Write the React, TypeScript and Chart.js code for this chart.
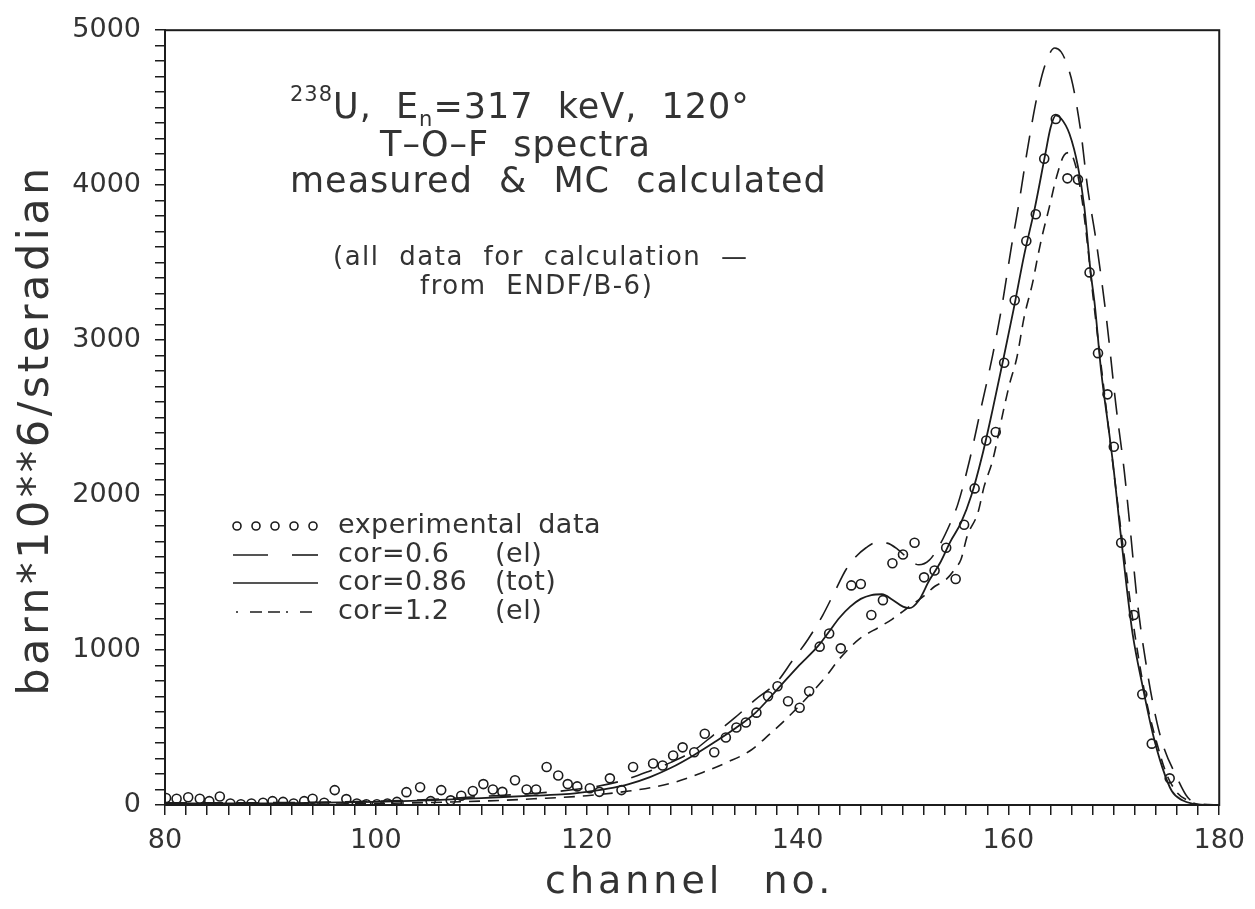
import React, { useEffect, useRef } from 'react';
import { Chart, registerables } from 'chart.js';

Chart.register(...registerables);

// ---------- data ----------
const expX = [80.1, 81.1, 82.2, 83.3, 84.2, 85.2, 86.2, 87.2, 88.2, 89.3, 90.2, 91.2, 92.2, 93.2, 94.0, 95.1, 96.1, 97.2, 98.2, 99.1,
  100.1, 101.1, 102.0, 102.9, 104.2, 105.2, 106.2, 107.1, 108.1, 109.2, 110.2, 111.1, 112.0, 113.2, 114.3, 115.2, 116.2, 117.3, 118.2, 119.1,
  120.3, 121.2, 122.2, 123.3, 124.4, 126.3, 127.2, 128.2, 129.1, 130.2, 131.2, 132.1, 133.2, 134.2, 135.1, 136.1, 137.2, 138.1, 139.1, 140.2,
  141.1, 142.1, 143.0, 144.1, 145.1, 146.0, 147.0, 148.1, 149.0, 150.0, 151.1, 152.0, 153.0, 154.1, 155.0, 155.8, 156.8, 157.9, 158.8, 159.6,
  160.6, 161.7, 162.6, 163.4, 164.5, 165.6, 166.6, 167.7, 168.5, 169.4, 170.0, 170.7, 171.9, 172.7, 173.6, 175.3];
const expY = [45, 40, 50, 40, 25, 55, 10, 5, 10, 15, 25, 20, 10, 25, 40, 15, 96, 38, 10, 5,
  5, 10, 20, 83, 115, 25, 96, 30, 60, 90, 135, 100, 85, 160, 100, 100, 245, 190, 135, 120,
  108, 85, 172, 96, 245, 268, 255, 319, 372, 340, 460, 340, 436, 500, 532, 596, 702, 766, 670, 628,
  734, 1022, 1107, 1011, 1417, 1426, 1226, 1322, 1560, 1617, 1692, 1469, 1513, 1660, 1458, 1809, 2043, 2352, 2407, 2854,
  3257, 3640, 3812, 4171, 4427, 4044, 4036, 3437, 2916, 2650, 2312, 1692, 1226, 715, 396, 172];

const corTotX = [80, 85, 90, 95, 100, 105, 110, 115, 118, 120, 122, 124, 126, 128, 130, 132, 134, 136, 138, 140,
  142, 143, 144, 145, 146, 147, 148, 149, 150, 150.6, 151.5, 152.5, 153.5, 154.5, 155.5, 156.5, 157.5, 158.5, 159.5, 160.5,
  161.5, 162.5, 163.5, 164, 164.5, 165, 165.8, 166.6, 167.2, 167.8, 168.2, 168.8, 169.6, 170, 170.5, 171.2, 171.8, 172.7, 173.7, 174.6,
  175.5, 176.5, 177.5, 179, 180];
const corTotY = [10, 10, 10, 15, 20, 30, 45, 60, 70, 85, 105, 135, 180, 240, 315, 400, 490, 595, 740, 890,
  1030, 1120, 1210, 1280, 1330, 1355, 1360, 1325, 1280, 1270, 1320, 1450, 1560, 1700, 1820, 2000, 2250, 2550, 2870, 3200,
  3550, 3850, 4200, 4370, 4450, 4430, 4330, 4120, 3860, 3440, 3225, 2800, 2380, 2160, 1840, 1417, 1098, 777, 460, 243,
  90, 30, 8, 0, 0];

const cor06X = [80, 90, 100, 105, 110, 115, 120, 123, 126, 128, 130, 132, 134, 136, 138, 139.5, 141, 142.4, 143.5, 144.6,
  145.5, 146.5, 147.5, 148.5, 149.5, 150.5, 151.5, 152.5, 153.5, 154.5, 155.2, 156.3, 157.4, 158.5, 159.4, 160.3, 161, 161.8, 162.7, 163.5,
  164.4, 165, 165.5, 166.1, 166.9, 167.5, 168.3, 169.3, 170.2, 171, 171.6, 172.2, 173.2, 174.1, 174.8, 175.9, 177, 178, 180];
const cor06Y = [15, 15, 25, 35, 55, 75, 110, 150, 220, 275, 345, 450, 560, 680, 790, 930, 1070, 1226, 1373, 1520,
  1600, 1660, 1695, 1690, 1650, 1590, 1550, 1580, 1680, 1820, 1940, 2220, 2560, 2900, 3225, 3608, 3883, 4227, 4566, 4780,
  4885, 4860, 4790, 4650, 4330, 3990, 3650, 3140, 2580, 2150, 1750, 1330, 850, 530, 360, 190, 50, 10, 0];

const cor12X = [80, 90, 100, 110, 115, 120, 124, 126.3, 128.5, 131, 133.3, 135.5, 137.4, 139, 141, 142.7, 144, 145.9, 147.8, 149,
  150, 151, 152, 153, 154.1, 155, 155.5, 156.1, 157.1, 157.7, 158.5, 159.6, 160.1, 160.8, 161.5, 162.3, 162.8, 163.2, 163.9, 164.5,
  165.3, 165.8, 166.4, 167, 167.5, 168, 169, 170, 171, 172, 173, 174, 175, 176, 177, 178, 180];
const cor12Y = [5, 5, 10, 25, 40, 60, 90, 115, 150, 210, 275, 350, 460, 560, 700, 830, 945, 1073, 1150, 1200,
  1250, 1300, 1350, 1410, 1456, 1530, 1584, 1737, 1884, 2056, 2222, 2567, 2714, 2886, 3150, 3371, 3544, 3671, 3863, 4036,
  4195, 4210, 4120, 3900, 3620, 3300, 2720, 2150, 1600, 1100, 700, 420, 200, 80, 30, 5, 0];

const X_TITLE = 'channel  no.';
const Y_TITLE = 'barn*10**6/steradian';
const NOTE_LINES = ['T–O–F spectra', 'measured & MC calculated'];
const NOTE_SMALL = ['(all data for calculation —', 'from ENDF/B-6)'];
const LEGEND_LABELS = ['experimental data', 'cor=0.6', 'cor=0.86', 'cor=1.2'];
const LEGEND_TAGS = ['', '(el)', '(tot)', '(el)'];

const FONT = '"DejaVu Sans", sans-serif';
const INK = '#1c1c1c';
const TXT = '#333333';

const toPts = (xs: number[], ys: number[]) => xs.map((x, i) => ({ x, y: ys[i] }));

const overlay = {
  id: 'overlay',
  afterDraw(chart: any) {
    const { ctx, chartArea: a } = chart;
    ctx.save();
    ctx.strokeStyle = INK;
    ctx.lineWidth = 2;
    ctx.strokeRect(a.left, a.top, a.right - a.left, a.bottom - a.top);

    const setSp = (ls: number, ws: number) => {
      (ctx as any).letterSpacing = `${ls}px`;
      (ctx as any).wordSpacing = `${ws}px`;
    };

    ctx.fillStyle = TXT;
    // y title
    ctx.save();
    ctx.translate(37, 430);
    ctx.rotate(-Math.PI / 2);
    ctx.font = `43px ${FONT}`;
    setSp(3.5, 0);
    ctx.textAlign = 'center';
    ctx.textBaseline = 'middle';
    ctx.fillText(Y_TITLE, 0, 0);
    ctx.restore();

    // x title
    ctx.font = `38px ${FONT}`;
    setSp(4, 4);
    ctx.textAlign = 'left';
    ctx.textBaseline = 'alphabetic';
    ctx.fillText(X_TITLE, 545, 893);

    // note line 1 with super/subscript
    const pieces = [
      { t: '238', s: 21, dy: -17 },
      { t: 'U, E', s: 35, dy: 0 },
      { t: 'n', s: 21, dy: 8 },
      { t: '=317 keV, 120°', s: 35, dy: 0 },
    ];
    let x = 290;
    setSp(1, 12);
    pieces.forEach((p) => {
      ctx.font = `${p.s}px ${FONT}`;
      ctx.fillText(p.t, x, 118 + p.dy);
      x += ctx.measureText(p.t).width;
    });
    ctx.font = `35px ${FONT}`;
    setSp(1, 12);
    ctx.fillText(NOTE_LINES[0], 380, 156);
    setSp(1, 14);
    ctx.fillText(NOTE_LINES[1], 290, 192);
    ctx.font = `26px ${FONT}`;
    setSp(1.5, 10);
    ctx.fillText(NOTE_SMALL[0], 333, 265);
    ctx.fillText(NOTE_SMALL[1], 420, 294);

    // legend
    const baselines = [533, 562, 590, 619];
    ctx.font = `27px ${FONT}`;
    setSp(0.5, 6);
    LEGEND_LABELS.forEach((lab, i) => {
      ctx.fillText(lab, 338, baselines[i]);
      if (LEGEND_TAGS[i]) ctx.fillText(LEGEND_TAGS[i], 495, baselines[i]);
    });
    setSp(0, 0);
    ctx.strokeStyle = INK;
    ctx.lineWidth = 1.6;
    [237, 256, 275, 294, 313].forEach((px) => {
      ctx.beginPath();
      ctx.arc(px, baselines[0] - 7, 4, 0, Math.PI * 2);
      ctx.stroke();
    });
    const seg = (x1: number, x2: number, y: number, dash: number[]) => {
      ctx.setLineDash(dash);
      ctx.beginPath();
      ctx.moveTo(x1, y);
      ctx.lineTo(x2, y);
      ctx.stroke();
    };
    seg(233, 268, baselines[1] - 7, []);
    seg(292, 318, baselines[1] - 7, []);
    seg(233, 318, baselines[2] - 7, []);
    seg(236, 318, baselines[3] - 7, [2, 12, 12, 6, 12, 6]);
    ctx.setLineDash([]);
    ctx.restore();
  },
};

export default function App() {
  const ref = useRef<HTMLCanvasElement | null>(null);
  useEffect(() => {
    if (!ref.current) return;
    const chart = new Chart(ref.current, {
      type: 'scatter',
      data: {
        datasets: [
          {
            label: 'experimental data',
            data: toPts(expX, expY),
            showLine: false,
            pointStyle: 'circle',
            pointRadius: 4.5,
            pointBorderWidth: 1.6,
            pointBorderColor: INK,
            pointBackgroundColor: 'rgba(255,255,255,0)',
          },
          {
            label: 'cor=0.6 (el)',
            data: toPts(cor06X, cor06Y),
            showLine: true,
            pointRadius: 0,
            borderColor: INK,
            borderWidth: 1.6,
            borderDash: [22, 14],
            cubicInterpolationMode: 'monotone',
          },
          {
            label: 'cor=0.86 (tot)',
            data: toPts(corTotX, corTotY),
            showLine: true,
            pointRadius: 0,
            borderColor: INK,
            borderWidth: 1.8,
            cubicInterpolationMode: 'monotone',
          },
          {
            label: 'cor=1.2 (el)',
            data: toPts(cor12X, cor12Y),
            showLine: true,
            pointRadius: 0,
            borderColor: INK,
            borderWidth: 1.6,
            borderDash: [11, 8],
            cubicInterpolationMode: 'monotone',
          },
        ],
      },
      options: {
        responsive: false,
        animation: false,
        devicePixelRatio: 1,
        layout: { padding: { top: 22, right: 35, left: 0, bottom: 0 } },
        plugins: { legend: { display: false }, tooltip: { enabled: false }, title: { display: false } },
        scales: {
          x: {
            type: 'linear',
            min: 80,
            max: 180,
            afterFit: (s: any) => { s.height = 104; },
            ticks: {
              stepSize: 2,
              autoSkip: false,
              maxRotation: 0,
              padding: 10,
              color: TXT,
              font: { family: FONT, size: 27 },
              callback: (v: any) => (Math.round(v) % 20 === 0 ? String(v) : ''),
            },
            grid: { drawOnChartArea: false, drawTicks: true, tickLength: 10, color: INK, lineWidth: 1.5 },
            border: { display: true, color: INK, width: 2 },
          },
          y: {
            type: 'linear',
            min: 0,
            max: 5000,
            afterFit: (s: any) => { s.width = 165; },
            ticks: {
              stepSize: 100,
              autoSkip: false,
              padding: 14,
              color: TXT,
              font: { family: FONT, size: 27 },
              callback: (v: any) => (Math.round(v) % 1000 === 0 ? String(v) : ''),
            },
            grid: { drawOnChartArea: false, drawTicks: true, tickLength: 10, color: INK, lineWidth: 1.5 },
            border: { display: true, color: INK, width: 2 },
          },
        },
      },
      plugins: [overlay],
    } as any);
    return () => chart.destroy();
  }, []);
  return (
    <div style={{ position: 'absolute', left: 0, top: 0, width: 1255, height: 909, background: '#fff' }}>
      <canvas ref={ref} width={1255} height={909} />
    </div>
  );
}
